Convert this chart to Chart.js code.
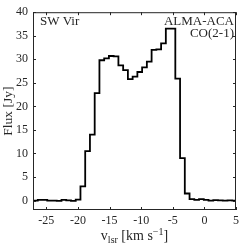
<!DOCTYPE html>
<html>
<head>
<meta charset="utf-8">
<script src="https://cdn.jsdelivr.net/npm/chart.js@4/dist/chart.umd.min.js"></script>
<style>
  html, body { margin: 0; padding: 0; background: #fff; }
  #wrap { width: 243px; height: 245px; }
</style>
</head>
<body>
<div id="wrap"><canvas id="spec"></canvas></div>
<script>
// channel centres [km/s] and flux [Jy]
const vel = [-26.72, -25.97, -25.22, -24.47, -23.72, -22.97, -22.22, -21.47, -20.72, -19.97,
             -19.22, -18.47, -17.72, -16.97, -16.22, -15.47, -14.72, -13.97, -13.22, -12.47,
             -11.72, -10.97, -10.22, -9.47, -8.72, -7.97, -7.22, -6.47, -5.72, -4.97,
             -4.22, -3.47, -2.72, -1.97, -1.22, -0.47, 0.28, 1.03, 1.78, 2.53, 3.28, 4.03, 4.78];
const flux = [0.0, 0.15, 0.15, 0.0, 0.0, -0.05, 0.15, 0.05, -0.05, 0.2,
              3.0, 10.5, 14.0, 22.8, 29.8, 30.2, 30.7, 30.6, 28.7, 27.7,
              25.8, 26.3, 27.3, 28.3, 29.5, 32.0, 32.1, 33.4, 36.5, 36.5,
              25.9, 9.0, 1.5, 0.3, 0.15, 0.3, 0.15, 0.0, 0.1, 0.05, 0.0, 0.05, 0.0];
const chanWidth = 0.75;
const xTicks = [-25, -20, -15, -10, -5, 0, 5];
const yTicks = [0, 5, 10, 15, 20, 25, 30, 35, 40];

const ink = '#262626';
const serif = "'Liberation Serif', 'DejaVu Serif', serif";

// histogram steps: left edge of every channel, plus closing right edge
const pts = vel.map((v, i) => ({ x: v - chanWidth / 2, y: flux[i] }));
pts.push({ x: vel[vel.length - 1] + chanWidth / 2, y: flux[flux.length - 1] });

const frame = {
  id: 'frame',
  afterDraw(c) {
    const { ctx, chartArea: a, scales } = c;
    ctx.save();
    ctx.strokeStyle = ink;
    ctx.lineWidth = 1;
    ctx.strokeRect(a.left + 0.5, a.top + 0.5, a.right - a.left - 1, a.bottom - a.top - 1);
    const tl = 3;
    ctx.beginPath();
    scales.x.ticks.forEach(t => {
      const px = Math.round(scales.x.getPixelForValue(t.value)) + 0.5;
      ctx.moveTo(px, a.bottom); ctx.lineTo(px, a.bottom - tl);
      ctx.moveTo(px, a.top); ctx.lineTo(px, a.top + tl);
    });
    scales.y.ticks.forEach(t => {
      const py = Math.round(scales.y.getPixelForValue(t.value)) + 0.5;
      ctx.moveTo(a.left, py); ctx.lineTo(a.left + tl, py);
      ctx.moveTo(a.right, py); ctx.lineTo(a.right - tl, py);
    });
    ctx.stroke();

    ctx.fillStyle = ink;
    ctx.textBaseline = 'alphabetic';
    ctx.font = '13px ' + serif;
    ctx.textAlign = 'left';
    ctx.fillText('SW Vir', a.left + 7, a.top + 13);
    ctx.textAlign = 'right';
    ctx.fillText('ALMA-ACA', a.right - 2, a.top + 13);
    ctx.fillText('CO(2-1)', a.right - 2, a.top + 25);

    // y-axis title
    ctx.save();
    ctx.translate(12, (a.top + a.bottom) / 2);
    ctx.rotate(-Math.PI / 2);
    ctx.textAlign = 'center';
    ctx.font = '13.5px ' + serif;
    ctx.fillText('Flux [Jy]', 0, 0);
    ctx.restore();

    // x-axis title with sub/superscripts
    const parts = [
      { t: 'v', s: 14, dy: 0 },
      { t: 'lsr', s: 10, dy: 3 },
      { t: ' [km s', s: 14, dy: 0 },
      { t: '\u22121', s: 10, dy: -5 },
      { t: ']', s: 14, dy: 0 }
    ];
    let w = 0;
    parts.forEach(p => { ctx.font = p.s + 'px ' + serif; p.w = ctx.measureText(p.t).width; w += p.w; });
    let x = (a.left + a.right) / 2 - w / 2;
    const base = 240;
    ctx.textAlign = 'left';
    parts.forEach(p => { ctx.font = p.s + 'px ' + serif; ctx.fillText(p.t, x, base + p.dy); x += p.w; });
    ctx.restore();
  }
};

new Chart(document.getElementById('spec'), {
  type: 'line',
  data: {
    datasets: [{
      data: pts,
      stepped: 'before',
      borderColor: '#000',
      borderWidth: 1.8,
      pointRadius: 0,
      fill: false
    }]
  },
  options: {
    responsive: true,
    maintainAspectRatio: false,
    animation: false,
    layout: { padding: { top: 5, right: 2, left: 0, bottom: 0 } },
    plugins: { legend: { display: false }, tooltip: { enabled: false } },
    scales: {
      x: {
        type: 'linear', min: -27.1, max: 5,
        afterBuildTicks: s => { s.ticks = xTicks.map(v => ({ value: v })); },
        afterFit: s => { s.height = 35; },
        grid: { display: false, drawTicks: false },
        border: { display: false },
        ticks: { color: ink, font: { family: serif, size: 12 }, padding: 4, maxRotation: 0 }
      },
      y: {
        type: 'linear', min: -2, max: 40,
        afterBuildTicks: s => { s.ticks = yTicks.map(v => ({ value: v })); },
        afterFit: s => { s.width = 33; },
        grid: { display: false, drawTicks: false },
        border: { display: false },
        ticks: { color: ink, font: { family: serif, size: 12 }, padding: 5 }
      }
    }
  },
  plugins: [frame]
});
</script>
</body>
</html>
